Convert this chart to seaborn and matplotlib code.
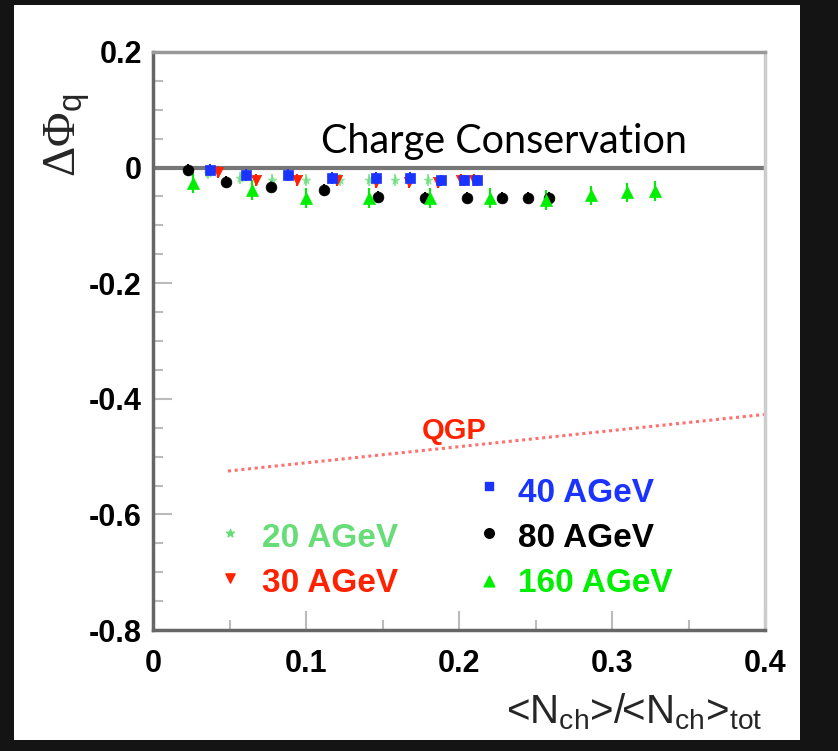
import matplotlib
matplotlib.use("Agg")
import matplotlib.pyplot as plt
import matplotlib.ticker as mticker
from matplotlib.patches import Rectangle
import pandas as pd
import seaborn as sns

# data
x_20 = [0.036, 0.057, 0.078, 0.100, 0.122, 0.141, 0.158, 0.180]
y_20 = [-0.009, -0.018, -0.021, -0.021, -0.021, -0.021, -0.021, -0.021]

x_30 = [0.0425, 0.067, 0.094, 0.120, 0.146, 0.167, 0.186, 0.201, 0.210]
y_30 = [-0.008, -0.021, -0.021, -0.021, -0.025, -0.025, -0.025, -0.021, -0.021]

x_40 = [0.037, 0.061, 0.088, 0.117, 0.146, 0.168, 0.188, 0.203, 0.212]
y_40 = [-0.004, -0.013, -0.013, -0.018, -0.018, -0.018, -0.022, -0.022, -0.022]

x_80 = [0.023, 0.048, 0.077, 0.112, 0.147, 0.178, 0.205, 0.228, 0.245, 0.259]
y_80 = [-0.004, -0.025, -0.033, -0.039, -0.051, -0.052, -0.052, -0.052, -0.052, -0.052]

x_160 = [0.026, 0.065, 0.100, 0.141, 0.181, 0.220, 0.257, 0.286, 0.310, 0.328]
y_160 = [-0.027, -0.039, -0.053, -0.053, -0.053, -0.053, -0.056, -0.048, -0.043, -0.040]

err_small = 0.010
err_160 = 0.017

qgp_x = [0.049, 0.400]
qgp_y = [-0.525, -0.427]

labels = ["20 AGeV", "30 AGeV", "40 AGeV", "80 AGeV", "160 AGeV"]
colors = ["#66dd77", "#ff2200", "#1a33ff", "#000000", "#00ee00"]
markers = ["*", "v", "s", "o", "^"]
sizes = [45, 55, 45, 60, 75]

series = [(x_20, y_20), (x_30, y_30), (x_40, y_40), (x_80, y_80), (x_160, y_160)]
errs = [err_small, err_small, err_small, err_small, err_160]

sns.set_style("white")
plt.rcParams["font.family"] = ["Liberation Sans", "DejaVu Sans"]
plt.rcParams["mathtext.fontset"] = "custom"
plt.rcParams["mathtext.rm"] = "Liberation Serif"
plt.rcParams["mathtext.sf"] = "Liberation Sans"

fig = plt.figure(figsize=(8.38, 7.51), dpi=100, facecolor="#141414")
fig.patches.append(Rectangle((14 / 838, 11 / 751), 786 / 838, 735 / 751,
                             transform=fig.transFigure, facecolor="white",
                             edgecolor="none", zorder=-10))
ax = fig.add_axes([153 / 838, 121 / 751, 612 / 838, 578 / 751])
ax.set_zorder(5)
ax.set_facecolor("white")

ax.axhline(0, color="#777777", lw=3, zorder=1)
ax.plot(qgp_x, qgp_y, color="#ff7070", lw=2.2, ls=(0, (1.0, 1.2)), zorder=1)

for (xs, ys), lab, c, m, s, e in zip(series, labels, colors, markers, sizes, errs):
    df = pd.DataFrame({"x": xs, "y": ys})
    alpha = 0.7 if lab == "20 AGeV" else 1.0
    ax.errorbar(xs, ys, yerr=e, fmt="none", ecolor=c, elinewidth=1.5,
                alpha=alpha, zorder=2)
    sns.scatterplot(data=df, x="x", y="y", marker=m, color=c, s=s,
                    edgecolor=c, linewidth=0.5, alpha=alpha, ax=ax, zorder=3)

# legend drawn as text, like the original
leg_pos = {
    "20 AGeV": (0.0503, -0.632, 0.0712, -0.641),
    "30 AGeV": (0.0503, -0.710, 0.0712, -0.719),
    "40 AGeV": (0.2196, -0.551, 0.2386, -0.563),
    "80 AGeV": (0.2196, -0.632, 0.2386, -0.641),
    "160 AGeV": (0.2196, -0.715, 0.2386, -0.719),
}
for lab, c, m, s in zip(labels, colors, markers, sizes):
    mx, my, tx, ty = leg_pos[lab]
    ax.scatter([mx], [my], marker=m, color=c, s=s * 0.8, edgecolor=c, zorder=3)
    ax.text(tx, ty, lab, color=c, fontsize=24, fontweight="bold",
            ha="left", va="center")

ax.text(0.197, -0.456, "QGP", color="#ff2200", fontsize=21,
        fontweight="bold", ha="center", va="center")
ax.text(0.110, 0.025, "Charge Conservation", fontsize=28.5, color="black",
        family=["Lato", "DejaVu Sans"], ha="left", va="baseline")

ax.set_xlim(0, 0.4)
ax.set_ylim(-0.8, 0.2)
ax.xaxis.set_major_locator(mticker.MultipleLocator(0.1))
ax.xaxis.set_minor_locator(mticker.MultipleLocator(0.05))
ax.yaxis.set_major_locator(mticker.MultipleLocator(0.2))
ax.yaxis.set_minor_locator(mticker.MultipleLocator(0.05))
ax.xaxis.set_major_formatter(mticker.FuncFormatter(lambda v, p: f"{v:g}"))
ax.yaxis.set_major_formatter(mticker.FuncFormatter(lambda v, p: f"{v:g}"))

ax.tick_params(axis="both", which="both", direction="in", colors="#bbbbbb",
               labelcolor="black", width=1.5, bottom=True, left=True,
               top=False, right=False)
ax.tick_params(axis="both", which="major", length=14)
ax.tick_params(axis="both", which="minor", length=7)
ax.tick_params(axis="x", which="major", pad=14)
ax.tick_params(axis="y", which="major", pad=8)
for lbl in ax.get_xticklabels() + ax.get_yticklabels():
    lbl.set_fontsize(22)
    lbl.set_fontweight("bold")

for side in ["left", "bottom"]:
    ax.spines[side].set_color("#666666")
    ax.spines[side].set_linewidth(2.5)
ax.spines["top"].set_color("#999999")
ax.spines["top"].set_linewidth(2.5)
ax.spines["right"].set_color("#cccccc")
ax.spines["right"].set_linewidth(2.5)

ax.set_xlabel("")
ax.set_ylabel("")
fig.text(67 / 838, 1 - 135 / 751, r"$\mathrm{\Delta\Phi}_{\mathsf{q}}$",
         fontsize=34, rotation=90, ha="center", va="center")
fig.text(762 / 838, 1 - 712 / 751,
         r"<N$_{\mathsf{ch}}$>/<N$_{\mathsf{ch}}$>$_{\mathsf{tot}}$",
         fontsize=29, ha="right", va="center")

fig.savefig("out.png", dpi=100, facecolor=fig.get_facecolor())
